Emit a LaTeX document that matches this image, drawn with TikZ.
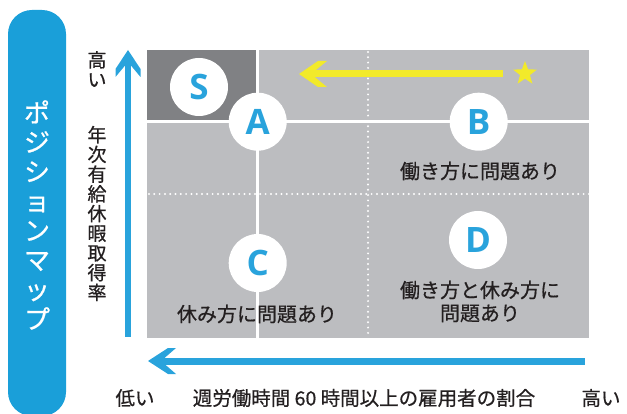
\documentclass[tikz,border=0pt]{standalone}
\usepackage{fontspec}
\setmainfont{Noto Sans CJK JP}[FakeBold=0.6]
\newfontfamily\latf{Open Sans}
\usetikzlibrary{shapes.geometric}
\definecolor{bbar}{HTML}{1A9FD9}
\definecolor{barrow}{HTML}{29A3DC}
\definecolor{lgray}{HTML}{BCBDC0}
\definecolor{dgray}{HTML}{808184}
\definecolor{yel}{HTML}{F2EA2A}
\definecolor{txt}{HTML}{231F20}
\definecolor{letter}{HTML}{29A3DC}
\begin{document}
\begin{tikzpicture}[x=1pt,y=-1pt,
  circ/.style={circle,fill=white,minimum size=58pt,inner sep=0pt,text=letter,
    font=\latf\bfseries\fontsize{35}{35}\selectfont},
  lab/.style={text=txt,align=center,inner sep=0pt,font=\fontsize{20}{23}\selectfont},
  vlab/.style={text=txt,align=center,inner sep=0pt,font=\fontsize{19}{19.7}\selectfont},
  wline/.style={white,line width=3pt},
  dotline/.style={white,line width=2.2pt,line cap=round,dash pattern=on 0pt off 5.3pt},
]
\useasboundingbox (0,0) rectangle (627,414);
% left title bar
\fill[bbar,rounded corners=24pt] (8,10) rectangle (66,416);
\node[align=center,text=white,inner sep=0pt,font=\fontsize{26}{29.5}\selectfont] (title) at (37,215)
  {ポ\\ジ\\シ\\ョ\\ン\\マ\\ッ\\プ};
% grid
\fill[lgray] (147,50) rectangle (589,338);
\fill[dgray] (147,50) rectangle (257.7,121.7);
\coordinate (hl) at (147,121.7); \coordinate (hr) at (589,121.7);
\coordinate (vt) at (257.7,50); \coordinate (vb) at (257.7,338);
\draw[wline] (hl) -- (hr);
\draw[wline] (vt) -- (vb);
\coordinate (dl) at (149,194); \coordinate (dr) at (589,194);
\coordinate (dt) at (368,52); \coordinate (db) at (368,338);
\draw[dotline] (dl) -- (dr);
\draw[dotline] (dt) -- (db);
% yellow arrow
\coordinate (ytip) at (299,74); \coordinate (ynotch) at (311,74); \coordinate (yend) at (503,74);
\draw[yel,line width=7pt] (ynotch) -- (yend);
\fill[yel] (ytip) -- (318,61) -- (327,61) -- (ynotch) -- (327,87) -- (318,87) -- cycle;
\node[star,star points=5,star point ratio=2.4,fill=yel,minimum size=25pt,inner sep=0pt] (star) at (525,73.5) {};
% circles
\node[circ] (S) at (199,87) {S};
\node[circ] (A) at (257.7,121.7) {A};
\node[circ] (B) at (478.7,121.7) {B};
\node[circ] (C) at (257.7,263) {C};
\node[circ] (D) at (478,240) {D};
% quadrant labels
\node[lab] (Bl) at (480,171) {働き方に問題あり};
\node[lab] (Cl) at (257,314) {休み方に問題あり};
\node[lab] (Dl) at (480,301.5) {働き方と休み方に\\問題あり};
% vertical axis arrow
\coordinate (vtip) at (128,50); \coordinate (vnotch) at (128,62); \coordinate (vend) at (128,337);
\draw[barrow,line width=6.5pt] (vnotch) -- (vend);
\fill[barrow] (vtip) -- (115.5,69) -- (115.5,77) -- (vnotch) -- (140.5,77) -- (140.5,69) -- cycle;
% horizontal axis arrow
\coordinate (htip) at (148,361); \coordinate (hnotch) at (161,361); \coordinate (hend) at (585,361);
\draw[barrow,line width=7pt] (hnotch) -- (hend);
\fill[barrow] (htip) -- (168,348) -- (176,348) -- (hnotch) -- (176,374) -- (168,374) -- cycle;
% axis labels
\node[vlab] (hi) at (97,69) {高\\い};
\node[vlab] (ylab) at (97,213.5) {年\\次\\有\\給\\休\\暇\\取\\得\\率};
\node[lab,font=\fontsize{19.5}{22}\selectfont] (lo) at (135,398) {低い};
\node[lab,font=\fontsize{19.5}{22}\selectfont] (xlab) at (364,398) {週労働時間 60 時間以上の雇用者の割合};
\node[lab,font=\fontsize{19.5}{22}\selectfont] (hi2) at (601,398) {高い};
\end{tikzpicture}
\end{document}
